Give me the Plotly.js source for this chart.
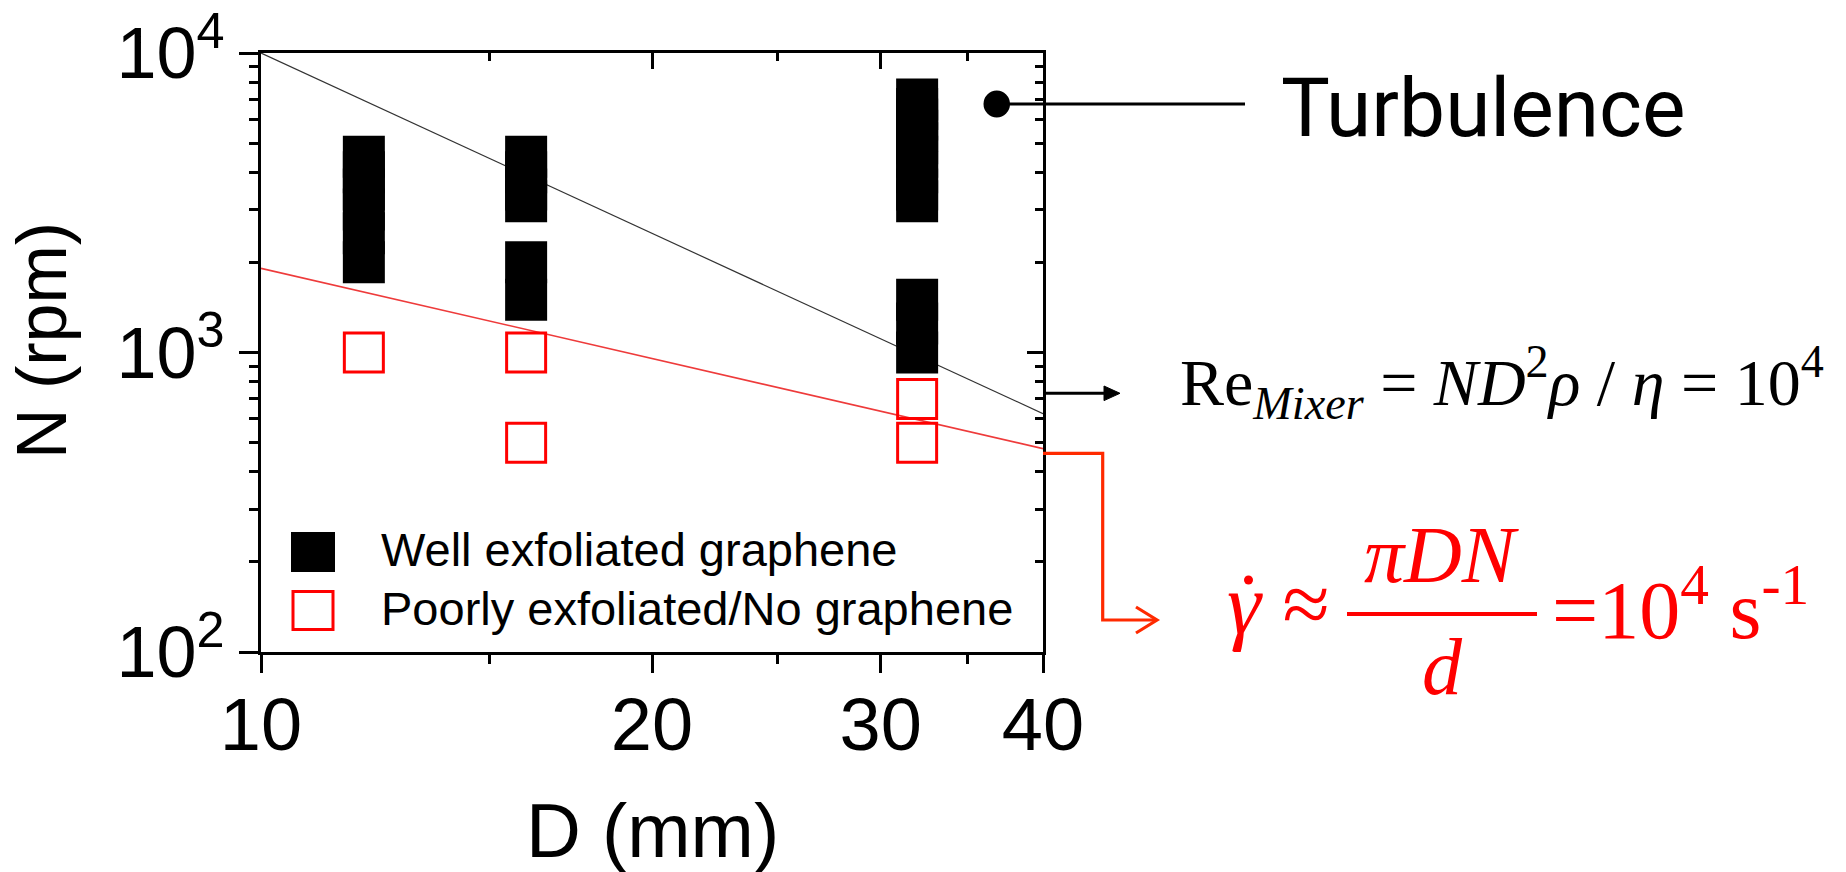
<!DOCTYPE html>
<html>
<head>
<meta charset="utf-8">
<script src="https://cdn.plot.ly/plotly-3.0.1.min.js"></script>
<style>
html,body{margin:0;padding:0;background:#fff;}
#chart{width:1846px;height:872px;}
</style>
</head>
<body>
<div id="chart"></div>
<script>
// ---------- data ----------
const wellD = [12,12,12,12,12,12, 16,16,16,16,16,16, 32,32,32,32,32,32,32,32,32,32,32,32];
const wellN = [2000,2500,3000,3500,4000,4500, 1500,2000,3200,3500,4000,4500, 1000,1250,1500,3200,3500,4000,4500,5000,5500,6000,6500,7000];
const poorD = [12,16,16,32,32];
const poorN = [1000,1000,500,700,500];
const lineD = [10,40];
const reN = [10000,625];       // Re_Mixer = 10^4  (N ~ 1/D^2)
const shearN = [1910,477.5];   // shear rate = 10^4 s^-1 (N ~ 1/D)
const xTickVals = [10,20,30,40];
const xTickText = ['10','20','30','40'];
const xMinorVals = [15,25,35];
const yTickVals = [100,1000,10000];
const yTickText = ['10<sup>2</sup>','10<sup>3</sup>','10<sup>4</sup>'];
const yMinorVals = [200,300,400,500,600,700,800,900,2000,3000,4000,5000,6000,7000,8000,9000];
const seriesNames = ['Well exfoliated graphene','Poorly exfoliated/No graphene'];
const xTitle = 'D (mm)';
const yTitle = 'N (rpm)';

// ---------- layout helpers (pixel -> paper) ----------
const L = 261, R = 1043, T = 53, B = 652;
const fx = p => (p - L) / (R - L);
const fy = p => (B - p) / (B - T);

const SANS = 'Liberation Sans, Arial, sans-serif';
const SERIF = 'Liberation Serif, Times New Roman, serif';
const RED = '#ff0000';
const ORANGE = '#ff2a00';

const traces = [
  {x: lineD, y: reN, mode: 'lines', line: {color: '#333333', width: 1.2}, showlegend: false, hoverinfo: 'skip'},
  {x: lineD, y: shearN, mode: 'lines', line: {color: '#ee3b3b', width: 1.6}, showlegend: false, hoverinfo: 'skip'},
  {x: wellD, y: wellN, name: seriesNames[0], mode: 'markers',
   marker: {symbol: 'square', size: 42, color: '#000000', line: {width: 0}}, showlegend: false},
  {x: poorD, y: poorN, name: seriesNames[1], mode: 'markers',
   marker: {symbol: 'square-open', size: 39, color: RED, line: {width: 3, color: RED}}, showlegend: false},
  {x: [], y: [], xaxis: 'x2', yaxis: 'y2', showlegend: false, hoverinfo: 'skip'}
];

const axBase = {
  type: 'log', showgrid: false, zeroline: false, showline: true,
  linewidth: 3, linecolor: '#000', tickcolor: '#000', tickwidth: 3,
  tickmode: 'array', fixedrange: true
};

const layout = {
  width: 1846, height: 872,
  paper_bgcolor: '#fff', plot_bgcolor: '#fff',
  margin: {l: L, r: 1846 - R, t: T, b: 872 - B, pad: 0},
  showlegend: false,
  xaxis: Object.assign({}, axBase, {
    range: [1, Math.log10(40)], tickvals: xTickVals, ticktext: xTickText,
    ticks: 'outside', ticklen: 18, ticklabelstandoff: -12,
    tickfont: {family: SANS, size: 74, color: '#000'},
    minor: {tickmode: 'array', tickvals: xMinorVals, ticks: 'outside', ticklen: 9, tickwidth: 3, tickcolor: '#000', showgrid: false}
  }),
  yaxis: Object.assign({}, axBase, {
    range: [2, 4], tickvals: yTickVals, ticktext: yTickText,
    ticks: 'outside', ticklen: 19,
    tickfont: {family: SANS, size: 72, color: '#000'},
    minor: {tickmode: 'array', tickvals: yMinorVals, ticks: 'outside', ticklen: 9, tickwidth: 3, tickcolor: '#000', showgrid: false}
  }),
  xaxis2: Object.assign({}, axBase, {
    overlaying: 'x', side: 'top', anchor: 'y2',
    range: [1, Math.log10(40)], tickvals: xTickVals, showticklabels: false,
    ticks: 'inside', ticklen: 16,
    minor: {tickmode: 'array', tickvals: xMinorVals, ticks: 'inside', ticklen: 8, tickwidth: 3, tickcolor: '#000', showgrid: false}
  }),
  yaxis2: Object.assign({}, axBase, {
    overlaying: 'y', side: 'right', anchor: 'x2',
    range: [2, 4], tickvals: yTickVals, showticklabels: false,
    ticks: 'inside', ticklen: 16,
    minor: {tickmode: 'array', tickvals: yMinorVals, ticks: 'inside', ticklen: 8, tickwidth: 3, tickcolor: '#000', showgrid: false}
  }),
  shapes: [
    // legend symbols
    {type: 'rect', xref: 'paper', yref: 'paper', x0: fx(291), x1: fx(335), y0: fy(572), y1: fy(532),
     fillcolor: '#000', line: {width: 0}},
    {type: 'rect', xref: 'paper', yref: 'paper', x0: fx(293), x1: fx(333), y0: fy(629.5), y1: fy(591.5),
     fillcolor: 'rgba(0,0,0,0)', line: {color: RED, width: 3}},
    // turbulence pointer
    {type: 'circle', xref: 'paper', yref: 'paper', x0: fx(983.5), x1: fx(1010), y0: fy(117.5), y1: fy(90.5),
     fillcolor: '#000', line: {width: 0}},
    {type: 'line', xref: 'paper', yref: 'paper', x0: fx(1000), x1: fx(1245), y0: fy(104), y1: fy(104),
     line: {color: '#000', width: 3}},
    // black arrow to Re equation
    {type: 'line', xref: 'paper', yref: 'paper', x0: fx(1043), x1: fx(1108), y0: fy(393.3), y1: fy(393.3),
     line: {color: '#000', width: 3}},
    {type: 'path', xref: 'paper', yref: 'paper',
     path: 'M' + fx(1120) + ',' + fy(393.3) + ' L' + fx(1104) + ',' + fy(386) + ' L' + fx(1104) + ',' + fy(400.6) + ' Z',
     fillcolor: '#000', line: {color: '#000', width: 1}},
    // red connector to shear-rate equation
    {type: 'path', xref: 'paper', yref: 'paper',
     path: 'M' + fx(1043) + ',' + fy(453.3) + ' L' + fx(1102.7) + ',' + fy(453.3) + ' L' + fx(1102.7) + ',' + fy(620) + ' L' + fx(1155) + ',' + fy(620),
     line: {color: ORANGE, width: 3.2}},
    {type: 'path', xref: 'paper', yref: 'paper',
     path: 'M' + fx(1136) + ',' + fy(607) + ' L' + fx(1157) + ',' + fy(620) + ' L' + fx(1136) + ',' + fy(633),
     line: {color: ORANGE, width: 3.2}},
    // dot over gamma
    {type: 'circle', xref: 'paper', yref: 'paper', x0: fx(1244), x1: fx(1253), y0: fy(584.5), y1: fy(575.5),
     fillcolor: RED, line: {width: 0}},
    // fraction bar
    {type: 'line', xref: 'paper', yref: 'paper', x0: fx(1347), x1: fx(1537), y0: fy(614), y1: fy(614),
     line: {color: RED, width: 4}}
  ],
  annotations: [
    {text: seriesNames[0], xref: 'paper', yref: 'paper', x: fx(379), y: fy(549.5), xanchor: 'left', yanchor: 'middle',
     showarrow: false, font: {family: SANS, size: 47, color: '#000'}},
    {text: seriesNames[1], xref: 'paper', yref: 'paper', x: fx(379), y: fy(608.5), xanchor: 'left', yanchor: 'middle',
     showarrow: false, font: {family: SANS, size: 47, color: '#000'}},
    {text: yTitle, xref: 'paper', yref: 'paper', x: fx(42), y: fy(341), textangle: -90, xanchor: 'center', yanchor: 'middle',
     showarrow: false, font: {family: SANS, size: 70, color: '#000'}},
    {text: xTitle, xref: 'paper', yref: 'paper', x: fx(652), y: fy(830), xanchor: 'center', yanchor: 'middle',
     showarrow: false, font: {family: SANS, size: 76, color: '#000'}},
    {text: 'Turbulence', xref: 'paper', yref: 'paper', x: fx(1483), y: fy(108), xanchor: 'center', yanchor: 'middle',
     showarrow: false, font: {family: 'Roboto, sans-serif', size: 82, color: '#000'}},
    {text: 'Re<sub><i>Mixer</i></sub> = <i>ND</i><sup>2</sup><i>ρ</i> / <i>η</i> = 10<sup>4</sup>',
     xref: 'paper', yref: 'paper', x: fx(1502), y: fy(382), xanchor: 'center', yanchor: 'middle',
     showarrow: false, font: {family: SERIF, size: 66, color: '#000'}},
    {text: '<i>\u03B3</i> \u2248', xref: 'paper', yref: 'paper', x: fx(1225), y: fy(604), xanchor: 'left', yanchor: 'middle',
     showarrow: false, font: {family: SERIF, size: 86, color: RED}},
    {text: '<i>\u03C0DN</i>', xref: 'paper', yref: 'paper', x: fx(1442), y: fy(555), xanchor: 'center', yanchor: 'middle',
     showarrow: false, font: {family: SERIF, size: 80, color: RED}},
    {text: '<i>d</i>', xref: 'paper', yref: 'paper', x: fx(1442), y: fy(667), xanchor: 'center', yanchor: 'middle',
     showarrow: false, font: {family: SERIF, size: 80, color: RED}},
    {text: '=10<sup>4</sup> s<sup>-1</sup>', xref: 'paper', yref: 'paper', x: fx(1550), y: fy(604), xanchor: 'left', yanchor: 'middle',
     showarrow: false, font: {family: SERIF, size: 82, color: RED}}
  ]
};

Plotly.newPlot('chart', traces, layout, {displayModeBar: false, staticPlot: true});
</script>
</body>
</html>
